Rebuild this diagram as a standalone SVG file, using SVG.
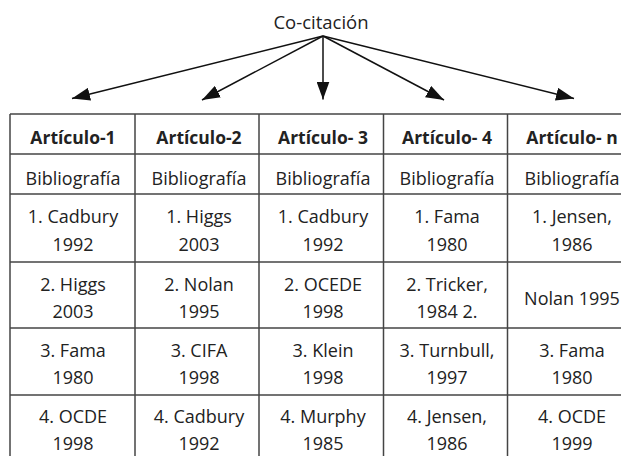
<svg xmlns="http://www.w3.org/2000/svg" width="621" height="456" viewBox="0 0 621 456">
<style>
text{font-family:"Open Sans","Noto Sans","DejaVu Sans",sans-serif;font-size:18px;fill:#222;text-anchor:middle}
.h{font-weight:bold;font-size:17.5px}
.t{font-size:18.5px}
.grid{stroke:#444;stroke-width:1.5;fill:none}
.conn{stroke:#111;stroke-width:1.5;fill:none;marker-end:url(#ah)}
</style>
<defs>
<marker id="ah" markerUnits="userSpaceOnUse" markerWidth="18" markerHeight="13" refX="18" refY="6.5" orient="auto">
<path d="M0,0 L18,6.5 L0,13 z" fill="#111"/>
</marker>
</defs>
<g id="title"><text class="t" x="321" y="29">Co-citación</text></g>
<g id="connectors">
<line class="conn" x1="323" y1="36" x2="72" y2="98.5"/>
<line class="conn" x1="323" y1="36" x2="202" y2="100"/>
<line class="conn" x1="323" y1="36" x2="323" y2="99.5"/>
<line class="conn" x1="323" y1="36" x2="444" y2="100"/>
<line class="conn" x1="323" y1="36" x2="574" y2="98.5"/>
</g>
<g id="table-grid" class="grid">
<line x1="10" y1="114" x2="621" y2="114"/>
<line x1="10" y1="154" x2="621" y2="154"/>
<line x1="10" y1="194" x2="621" y2="194"/>
<line x1="10" y1="262" x2="621" y2="262"/>
<line x1="10" y1="328" x2="621" y2="328"/>
<line x1="10" y1="395" x2="621" y2="395"/>
<line x1="10" y1="114" x2="10" y2="456"/>
<line x1="135" y1="114" x2="135" y2="456"/>
<line x1="259" y1="114" x2="259" y2="456"/>
<line x1="383.5" y1="114" x2="383.5" y2="456"/>
<line x1="507.5" y1="114" x2="507.5" y2="456"/>
</g>
<g id="articulo-1">
<text class="h" x="73" y="143.5">Artículo-1</text>
<text x="73" y="184.5">Bibliografía</text>
<text x="73" y="223">1. Cadbury</text><text x="73" y="250.5">1992</text>
<text x="73" y="291">2. Higgs</text><text x="73" y="318">2003</text>
<text x="73" y="357">3. Fama</text><text x="73" y="384">1980</text>
<text x="73" y="423">4. OCDE</text><text x="73" y="450">1998</text>
</g>
<g id="articulo-2">
<text class="h" x="199" y="143.5">Artículo-2</text>
<text x="199" y="184.5">Bibliografía</text>
<text x="199" y="223">1. Higgs</text><text x="199" y="250.5">2003</text>
<text x="199" y="291">2. Nolan</text><text x="199" y="318">1995</text>
<text x="199" y="357">3. CIFA</text><text x="199" y="384">1998</text>
<text x="199" y="423">4. Cadbury</text><text x="199" y="450">1992</text>
</g>
<g id="articulo-3">
<text class="h" x="323" y="143.5">Artículo- 3</text>
<text x="323" y="184.5">Bibliografía</text>
<text x="323" y="223">1. Cadbury</text><text x="323" y="250.5">1992</text>
<text x="323" y="291">2. OCEDE</text><text x="323" y="318">1998</text>
<text x="323" y="357">3. Klein</text><text x="323" y="384">1998</text>
<text x="323" y="423">4. Murphy</text><text x="323" y="450">1985</text>
</g>
<g id="articulo-4">
<text class="h" x="447" y="143.5">Artículo- 4</text>
<text x="447" y="184.5">Bibliografía</text>
<text x="447" y="223">1. Fama</text><text x="447" y="250.5">1980</text>
<text x="447" y="291">2. Tricker,</text><text x="447" y="318">1984 2.</text>
<text x="447" y="357">3. Turnbull,</text><text x="447" y="384">1997</text>
<text x="447" y="423">4. Jensen,</text><text x="447" y="450">1986</text>
</g>
<g id="articulo-n">
<text class="h" x="572" y="143.5">Artículo- n</text>
<text x="572" y="184.5">Bibliografía</text>
<text x="572" y="223">1. Jensen,</text><text x="572" y="250.5">1986</text>
<text x="572" y="305">Nolan 1995</text>
<text x="572" y="357">3. Fama</text><text x="572" y="384">1980</text>
<text x="572" y="423">4. OCDE</text><text x="572" y="450">1999</text>
</g>
</svg>
